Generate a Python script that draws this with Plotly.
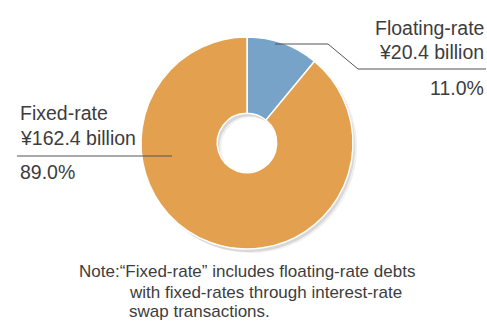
import plotly.graph_objects as go

W, H = 487, 321
categories = ["Floating-rate", "Fixed-rate"]
amounts = ["¥20.4 billion", "¥162.4 billion"]
shares = [11.0, 89.0]
colors = ["#77A3C8", "#E3A04E"]
note_lines = ["Note:\u201cFixed-rate\u201d includes floating-rate debts",
              "with fixed-rates through interest-rate",
              "swap transactions."]

def px(x):
    return x / W

def py(y):
    return 1 - y / H

cx, cy, r = 247, 143, 106
FONT = "Liberation Sans"
TC = "#3d3d3d"

fig = go.Figure()
# soft shadow
for dx, dy, col in [(4, 4, "rgba(0,0,0,0.06)"), (2, 3, "rgba(0,0,0,0.10)")]:
    fig.add_trace(go.Pie(values=[sum(shares)], hole=0.28, sort=False,
                         marker=dict(colors=[col], line=dict(width=0)),
                         textinfo="none", hoverinfo="skip", showlegend=False,
                         domain=dict(x=[px(cx - r + dx), px(cx + r + dx)],
                                     y=[py(cy + r + dy), py(cy - r + dy)])))
fig.add_trace(go.Pie(values=shares, labels=categories, hole=0.28, sort=False,
                     direction="clockwise", rotation=0,
                     marker=dict(colors=colors, line=dict(color="white", width=1.5)),
                     textinfo="none", showlegend=False,
                     domain=dict(x=[px(cx - r), px(cx + r)], y=[py(cy + r), py(cy - r)])))

shapes = [
    dict(type="path", xref="paper", yref="paper",
         path=f"M {px(275)},{py(44)} L {px(328)},{py(44)} L {px(358)},{py(69)} L {px(486)},{py(69)}",
         line=dict(color="#555", width=1)),
    dict(type="line", xref="paper", yref="paper", x0=px(17), y0=py(156), x1=px(172), y1=py(156),
         line=dict(color="#555", width=1)),
]

ann = []
def t(x, y, s, anchor, size=19.5):
    ann.append(dict(x=px(x), y=py(y), xref="paper", yref="paper", text=s, showarrow=False,
                    xanchor=anchor, yanchor="middle", font=dict(family=FONT, size=size, color=TC)))

t(486, 28, categories[0], "right")
t(486, 52, amounts[0], "right")
t(486, 88, f"{shares[0]:.1f}%", "right")
t(18, 113, categories[1], "left")
t(18, 138, amounts[1], "left")
t(18, 172, f"{shares[1]:.1f}%", "left")
t(77, 271, note_lines[0], "left", 17)
t(127, 292, note_lines[1], "left", 17)
t(127, 311, note_lines[2], "left", 17)

fig.update_layout(width=W, height=H, margin=dict(l=0, r=0, t=0, b=0),
                  paper_bgcolor="white", plot_bgcolor="white",
                  shapes=shapes, annotations=ann)
fig.write_html("out.html")
